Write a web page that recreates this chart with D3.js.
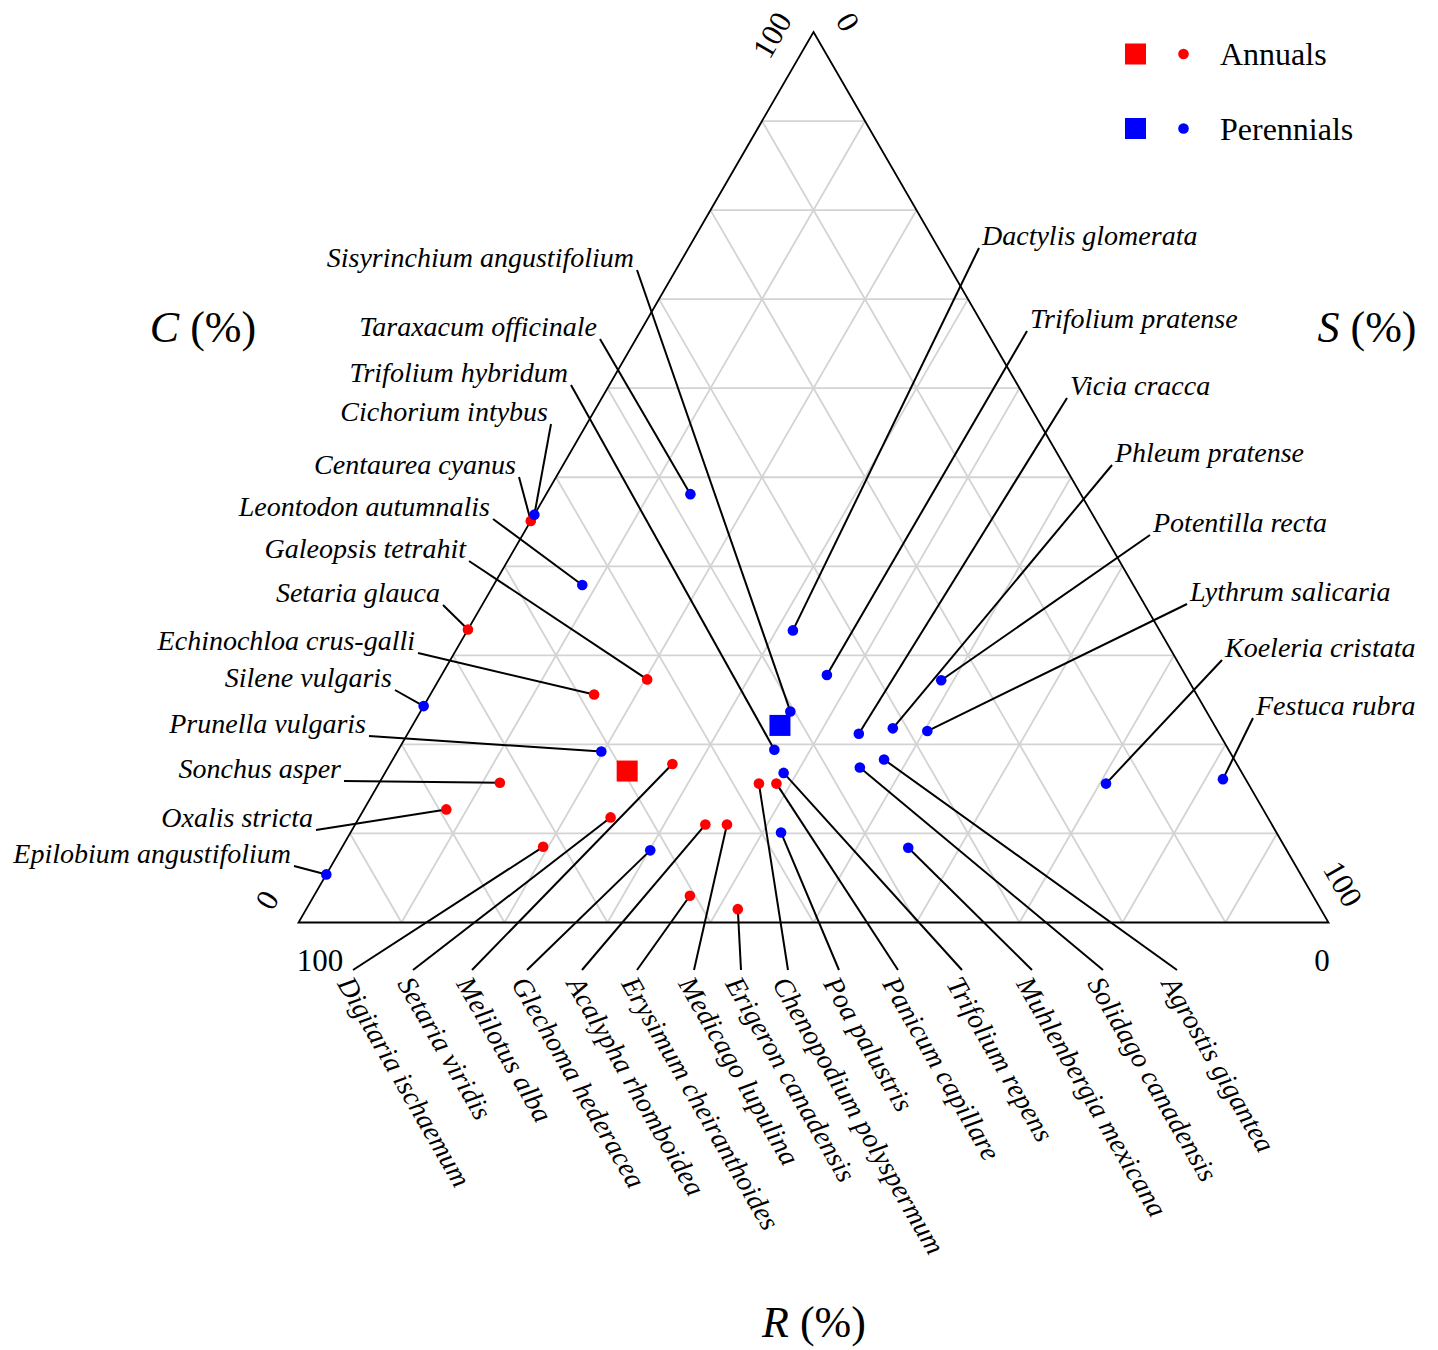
<!DOCTYPE html>
<html>
<head>
<meta charset="utf-8">
<script src="https://cdn.jsdelivr.net/npm/d3@7"></script>
<style>
  body { margin: 0; background: #ffffff; }
  svg text { font-family: "Liberation Serif", "Times New Roman", serif; fill: #000; }
</style>
</head>
<body>
<div id="chart"></div>
<script>
  // data: C, S, R shares (%)

  const annualNames = ["Centaurea cyanus", "Setaria glauca", "Galeopsis tetrahit", "Echinochloa crus-galli",
    "Sonchus asper", "Oxalis stricta", "Digitaria ischaemum", "Setaria viridis", "Melilotus alba",
    "Acalypha rhomboidea", "Erysimum cheiranthoides", "Medicago lupulina", "Erigeron canadensis",
    "Chenopodium polyspermum", "Panicum capillare"];
  const annualC = [45.1, 32.9, 27.3, 25.6, 15.7, 12.7, 8.5, 11.8, 17.8, 11.0, 3.0, 11.0, 1.5, 15.6, 15.6];
  const annualS = [0.0, 0.0, 20.2, 15.9, 11.7, 8.0, 19.5, 24.4, 27.4, 34.0, 36.5, 36.1, 41.9, 36.9, 38.6];
  const annualR = [54.9, 67.1, 52.5, 58.5, 72.6, 79.3, 72.0, 63.8, 54.8, 55.0, 60.5, 52.9, 56.6, 47.5, 45.8];

  const perennialNames = ["Cichorium intybus", "Taraxacum officinale", "Leontodon autumnalis", "Silene vulgaris",
    "Prunella vulgaris", "Epilobium angustifolium", "Glechoma hederacea", "Dactylis glomerata",
    "Trifolium pratense", "Vicia cracca", "Phleum pratense", "Potentilla recta", "Lythrum salicaria",
    "Koeleria cristata", "Festuca rubra", "Sisyrinchium angustifolium", "Trifolium hybridum",
    "Poa palustris", "Trifolium repens", "Muhlenbergia mexicana", "Solidago canadensis", "Agrostis gigantea"];
  const perennialC = [45.8, 48.1, 37.9, 24.3, 19.2, 5.4, 8.1, 32.8, 27.8, 21.2, 21.8, 27.2, 21.5,
    15.6, 16.1, 23.7, 19.4, 10.1, 16.8, 8.4, 17.4, 18.3];
  const perennialS = [0.0, 14.0, 8.6, 0.0, 19.8, 0.0, 30.1, 31.6, 37.4, 43.8, 46.8, 48.8, 50.3,
    70.6, 81.7, 35.9, 36.5, 41.8, 38.7, 55.0, 45.8, 47.7];
  const perennialR = [54.2, 37.9, 53.5, 75.7, 61.0, 94.6, 61.8, 35.6, 34.8, 35.0, 31.4, 24.0, 28.2,
    13.8, 2.2, 40.4, 44.1, 48.1, 44.5, 36.6, 36.8, 34.0];

  const groupNames = ["Annuals", "Perennials"];
  const gridTicks = [10, 20, 30, 40, 50, 60, 70, 80, 90];
  const endTicks = ["0", "100"];

  // config

  const width = 1438;
  const height = 1350;
  const colors = ["#ff0000", "#0000ff"];
  const corner = { left: 298.5, right: 1328.5, top: 32, bottom: 922.5 };

  // where each species label sits (side, x, baseline y)
  const labelPos = {
    "Sisyrinchium angustifolium": ["left", 634, 267],
    "Taraxacum officinale": ["left", 597, 336],
    "Trifolium hybridum": ["left", 568, 382],
    "Cichorium intybus": ["left", 548, 421],
    "Centaurea cyanus": ["left", 516, 474],
    "Leontodon autumnalis": ["left", 490, 516],
    "Galeopsis tetrahit": ["left", 466, 558],
    "Setaria glauca": ["left", 440, 602],
    "Echinochloa crus-galli": ["left", 415, 650],
    "Silene vulgaris": ["left", 392, 687],
    "Prunella vulgaris": ["left", 366, 733],
    "Sonchus asper": ["left", 341, 778],
    "Oxalis stricta": ["left", 313, 827],
    "Epilobium angustifolium": ["left", 291, 863],
    "Dactylis glomerata": ["right", 982, 245],
    "Trifolium pratense": ["right", 1030, 328],
    "Vicia cracca": ["right", 1070, 395],
    "Phleum pratense": ["right", 1115, 462],
    "Potentilla recta": ["right", 1153, 532],
    "Lythrum salicaria": ["right", 1190, 601],
    "Koeleria cristata": ["right", 1225, 657],
    "Festuca rubra": ["right", 1256, 715],
    "Digitaria ischaemum": ["bottom", 353, 970],
    "Setaria viridis": ["bottom", 413, 970],
    "Melilotus alba": ["bottom", 472, 970],
    "Glechoma hederacea": ["bottom", 527, 970],
    "Acalypha rhomboidea": ["bottom", 582, 970],
    "Erysimum cheiranthoides": ["bottom", 637, 970],
    "Medicago lupulina": ["bottom", 694, 970],
    "Erigeron canadensis": ["bottom", 741, 970],
    "Chenopodium polyspermum": ["bottom", 788, 970],
    "Poa palustris": ["bottom", 839, 970],
    "Panicum capillare": ["bottom", 898, 970],
    "Trifolium repens": ["bottom", 962, 970],
    "Muhlenbergia mexicana": ["bottom", 1032, 970],
    "Solidago canadensis": ["bottom", 1103, 970],
    "Agrostis gigantea": ["bottom", 1177, 970]
  };

  // data massaging

  function build(names, cs, ss, rs, g) {
    return names.map((n, i) => ({ name: n, C: cs[i], S: ss[i], R: rs[i], group: g }));
  }
  const annuals = build(annualNames, annualC, annualS, annualR, 0);
  const perennials = build(perennialNames, perennialC, perennialS, perennialR, 1);
  const species = annuals.concat(perennials);
  const means = [annuals, perennials].map((arr, g) => ({
    C: d3.mean(arr, d => d.C), S: d3.mean(arr, d => d.S), R: d3.mean(arr, d => d.R), group: g
  }));

  // scales: x follows S + C/2, y follows C

  const xScale = d3.scaleLinear().domain([0, 100]).range([corner.left, corner.right]);
  const yScale = d3.scaleLinear().domain([0, 100]).range([corner.bottom, corner.top]);

  function project(c, s, r) {
    const tot = c + s + r;
    const cc = c / tot * 100, ss = s / tot * 100;
    return [xScale(ss + cc / 2), yScale(cc)];
  }

  const svg = d3.select("#chart")
    .append("svg")
    .attr("width", width)
    .attr("height", height);

  // grid

  const gridLines = [];
  gridTicks.forEach(k => {
    gridLines.push([project(k, 0, 100 - k), project(k, 100 - k, 0)]);
    gridLines.push([project(0, k, 100 - k), project(100 - k, k, 0)]);
    gridLines.push([project(0, 100 - k, k), project(100 - k, 0, k)]);
  });

  svg.append("g")
    .selectAll("line")
    .data(gridLines)
    .enter()
    .append("line")
    .attr("x1", d => d[0][0]).attr("y1", d => d[0][1])
    .attr("x2", d => d[1][0]).attr("y2", d => d[1][1])
    .attr("stroke", "#d3d3d3")
    .attr("stroke-width", 1.8);

  // triangle

  const tri = [project(100, 0, 0), project(0, 100, 0), project(0, 0, 100)];
  svg.append("path")
    .attr("d", d3.line()(tri) + "Z")
    .attr("fill", "none")
    .attr("stroke", "#000")
    .attr("stroke-width", 1.8);

  // end tick labels: C along left edge, S along right edge, R along base

  const tickLabels = [
    { text: endTicks[1], p: project(100, 0, 0), dx: -41.5, dy: 3, rot: -60 },
    { text: endTicks[0], p: project(0, 0, 100), dx: -31.5, dy: -22.5, rot: -60 },
    { text: endTicks[0], p: project(100, 0, 0), dx: 34.5, dy: -10, rot: 60 },
    { text: endTicks[1], p: project(0, 100, 0), dx: 14.5, dy: -38.5, rot: 60 },
    { text: endTicks[1], p: project(0, 0, 100), dx: 21.5, dy: 38, rot: 0 },
    { text: endTicks[0], p: project(0, 100, 0), dx: -6.5, dy: 38, rot: 0 }
  ];

  svg.append("g")
    .selectAll("text")
    .data(tickLabels)
    .enter()
    .append("text")
    .attr("transform", d => `translate(${d.p[0] + d.dx},${d.p[1] + d.dy}) rotate(${d.rot})`)
    .attr("text-anchor", "middle")
    .attr("dominant-baseline", "central")
    .attr("font-size", 31)
    .text(d => d.text);

  // axis titles

  const titles = [["C", 203, 342], ["S", 1367, 342], ["R", 814, 1337]];
  titles.forEach(t => {
    const tx = svg.append("text")
      .attr("x", t[1]).attr("y", t[2])
      .attr("text-anchor", "middle")
      .attr("font-size", 44);
    tx.append("tspan").attr("font-style", "italic").text(t[0]);
    tx.append("tspan").text(" (%)");
  });

  // leader lines

  function leaderStart(d) {
    const lp = labelPos[d.name];
    if (lp[0] === "left") return [lp[1] + 3, lp[2] + 3];
    if (lp[0] === "right") return [lp[1] - 3, lp[2] + 3];
    return [lp[1], lp[2]];
  }

  svg.append("g")
    .selectAll("line")
    .data(species)
    .enter()
    .append("line")
    .attr("x1", d => leaderStart(d)[0])
    .attr("y1", d => leaderStart(d)[1])
    .attr("x2", d => project(d.C, d.S, d.R)[0])
    .attr("y2", d => project(d.C, d.S, d.R)[1])
    .attr("stroke", "#000")
    .attr("stroke-width", 2);

  // species labels

  svg.append("g")
    .selectAll("text")
    .data(species)
    .enter()
    .append("text")
    .attr("font-size", 28)
    .attr("font-style", "italic")
    .attr("text-anchor", d => labelPos[d.name][0] === "left" ? "end" : "start")
    .attr("dominant-baseline", d => labelPos[d.name][0] === "bottom" ? "central" : "auto")
    .attr("transform", d => {
      const lp = labelPos[d.name];
      if (lp[0] === "bottom") return `translate(${lp[1] - 8},${lp[2] + 9}) rotate(60)`;
      return `translate(${lp[1]},${lp[2]})`;
    })
    .text(d => d.name);

  // points

  svg.append("g")
    .selectAll("circle")
    .data(species)
    .enter()
    .append("circle")
    .attr("cx", d => project(d.C, d.S, d.R)[0])
    .attr("cy", d => project(d.C, d.S, d.R)[1])
    .attr("r", 5.3)
    .attr("fill", d => colors[d.group]);

  // group means

  const sq = 21;
  svg.append("g")
    .selectAll("rect")
    .data(means)
    .enter()
    .append("rect")
    .attr("x", d => project(d.C, d.S, d.R)[0] - sq / 2)
    .attr("y", d => project(d.C, d.S, d.R)[1] - sq / 2)
    .attr("width", sq)
    .attr("height", sq)
    .attr("fill", d => colors[d.group]);

  // legend

  const legend = svg.append("g")
    .selectAll("g")
    .data(groupNames)
    .enter()
    .append("g")
    .attr("transform", (d, i) => `translate(0,${54 + i * 74.5})`);

  legend.append("rect")
    .attr("x", 1135.5 - sq / 2).attr("y", -sq / 2)
    .attr("width", sq).attr("height", sq)
    .attr("fill", (d, i) => colors[i]);

  legend.append("circle")
    .attr("cx", 1183.5).attr("cy", 0).attr("r", 5.3)
    .attr("fill", (d, i) => colors[i]);

  legend.append("text")
    .attr("x", 1220).attr("y", 11)
    .attr("font-size", 32)
    .text(d => d);
</script>
</body>
</html>
